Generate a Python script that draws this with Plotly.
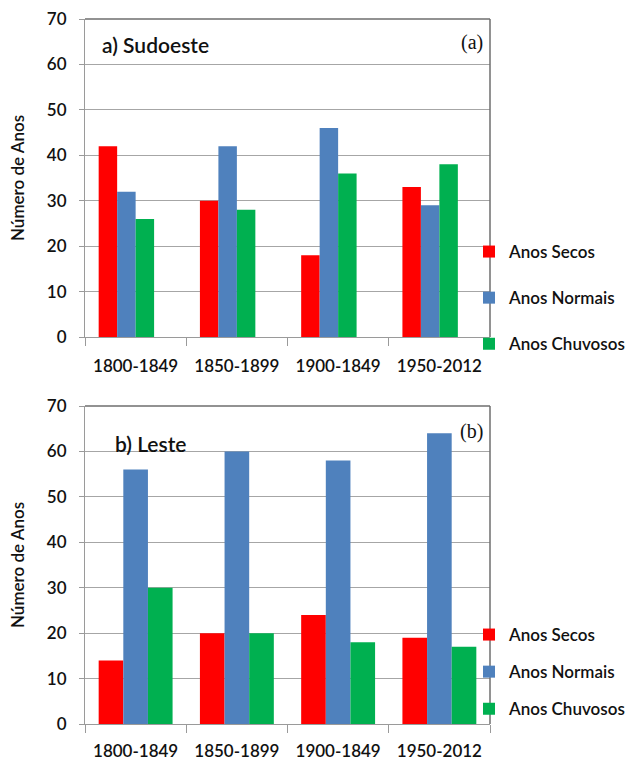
import plotly.graph_objects as go

categories = ["1800-1849", "1850-1899", "1900-1849", "1950-2012"]
series_names = ["Anos Secos", "Anos Normais", "Anos Chuvosos"]
colors = ["#FF0000", "#4F81BD", "#00B050"]

sudoeste_secos = [42, 30, 18, 33]
sudoeste_normais = [32, 42, 46, 29]
sudoeste_chuvosos = [26, 28, 36, 38]

leste_secos = [14, 20, 24, 19]
leste_normais = [56, 60, 58, 64]
leste_chuvosos = [30, 20, 18, 17]

y_ticks = [0, 10, 20, 30, 40, 50, 60, 70]

W, H = 634, 761
FONT = "Lato"
TXT = "#111111"

fig = go.Figure()

top_vals = [sudoeste_secos, sudoeste_normais, sudoeste_chuvosos]
bot_vals = [leste_secos, leste_normais, leste_chuvosos]

for name, col, vals in zip(series_names, colors, top_vals):
    fig.add_trace(go.Bar(x=categories, y=vals, name=name, marker_color=col,
                         marker_line_width=0, xaxis="x", yaxis="y",
                         legend="legend", legendgroup="t" + name,
                         offsetgroup="t" + name))
# empty fourth slot (the original chart reserves room for it)
fig.add_trace(go.Bar(x=categories, y=[None] * 4, name="", showlegend=False,
                     xaxis="x", yaxis="y", offsetgroup="tempty",
                     hoverinfo="skip"))

for name, col, vals in zip(series_names, colors, bot_vals):
    fig.add_trace(go.Bar(x=categories, y=vals, name=name, marker_color=col,
                         marker_line_width=0, xaxis="x2", yaxis="y2",
                         legend="legend2", legendgroup="b" + name,
                         offsetgroup="b" + name))

def px_x(p):
    return p / W

def px_y(p):
    return 1 - p / H

xdom = [px_x(85), px_x(490)]
ydom_top = [px_y(337), px_y(19)]
ydom_bot = [px_y(724), px_y(406)]

xaxis_common = dict(
    domain=xdom, type="category", showline=True, linecolor="#9A9A9A",
    linewidth=1, ticks="outside", ticklen=8, tickcolor="#9A9A9A",
    tickson="boundaries", showgrid=False, automargin=False,
    tickfont=dict(family=FONT, size=17, color=TXT, weight=600),
    ticklabelstandoff=14, fixedrange=True,
)
yaxis_common = dict(
    range=[0, 70], tickvals=y_ticks, showgrid=True, gridcolor="#A6A6A6",
    gridwidth=1, showline=True, linecolor="#9A9A9A", linewidth=1,
    ticks="outside", ticklen=5, tickcolor="#9A9A9A", automargin=False,
    tickfont=dict(family=FONT, size=17, color=TXT, weight=600),
    ticklabelstandoff=9, zeroline=False, fixedrange=True,
    title=dict(text="Número de Anos",
               font=dict(family=FONT, size=17, color=TXT, weight=600),
               standoff=17),
)

legend_font = dict(family=FONT, size=17, color=TXT, weight=600)

fig.update_layout(
    width=W, height=H,
    margin=dict(l=0, r=0, t=0, b=0),
    paper_bgcolor="white", plot_bgcolor="white",
    barmode="group", bargap=0.27, bargroupgap=0,
    xaxis=dict(xaxis_common, anchor="y"),
    yaxis=dict(yaxis_common, domain=ydom_top, anchor="x"),
    xaxis2=dict(xaxis_common, anchor="y2", ticklabelstandoff=12),
    yaxis2=dict(yaxis_common, domain=ydom_bot, anchor="x2"),
    legend=dict(x=px_x(469), y=px_y(234), xanchor="left", yanchor="top",
                font=legend_font, tracegroupgap=21, bgcolor="rgba(0,0,0,0)"),
    legend2=dict(x=px_x(469), y=px_y(617), xanchor="left", yanchor="top",
                 font=legend_font, tracegroupgap=12, bgcolor="rgba(0,0,0,0)"),
    showlegend=True,
)

# plot-area borders (top and right darker like the original)
for xr, yr in (("x domain", "y domain"), ("x2 domain", "y2 domain")):
    fig.add_shape(type="line", xref=xr, yref=yr, x0=0, x1=1, y0=1, y1=1,
                  line=dict(color="#6E6E6E", width=1.5))
    fig.add_shape(type="line", xref=xr, yref=yr, x0=1, x1=1, y0=0, y1=1,
                  line=dict(color="#6E6E6E", width=1.5))

fig.add_annotation(text="a) Sudoeste", xref="paper", yref="paper",
                   x=px_x(100), y=px_y(45), xanchor="left", yanchor="middle",
                   showarrow=False,
                   font=dict(family=FONT, size=21, color=TXT, weight=600))
fig.add_annotation(text="(a)", xref="paper", yref="paper",
                   x=px_x(485), y=px_y(42), xanchor="right", yanchor="middle",
                   showarrow=False,
                   font=dict(family="Liberation Serif", size=20, color=TXT))
fig.add_annotation(text="b) Leste", xref="paper", yref="paper",
                   x=px_x(113), y=px_y(443), xanchor="left", yanchor="middle",
                   showarrow=False,
                   font=dict(family=FONT, size=21, color=TXT, weight=600))
fig.add_annotation(text="(b)", xref="paper", yref="paper",
                   x=px_x(485), y=px_y(431), xanchor="right", yanchor="middle",
                   showarrow=False,
                   font=dict(family="Liberation Serif", size=20, color=TXT))

fig.write_html("out.html", config={"displayModeBar": False},
               post_script="document.body.style.margin='0px';")
